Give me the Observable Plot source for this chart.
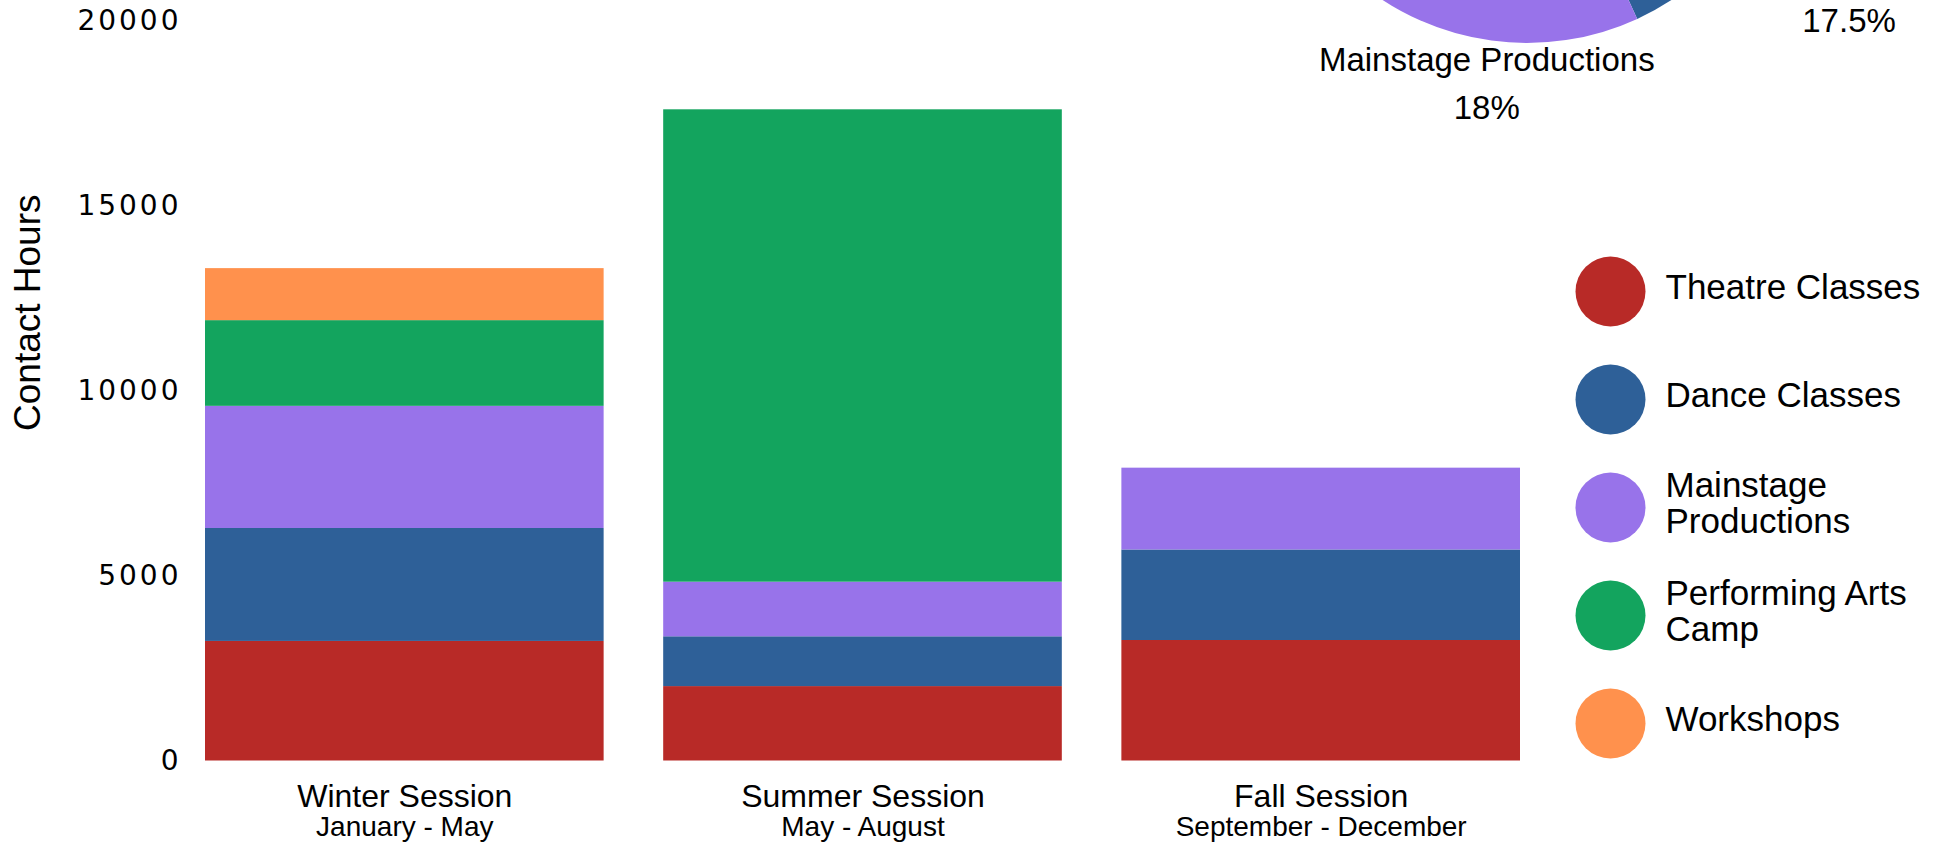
<!DOCTYPE html>
<html>
<head>
<meta charset="utf-8">
<script src="https://cdn.jsdelivr.net/npm/d3@7"></script>
<script src="https://cdn.jsdelivr.net/npm/@observablehq/plot@0.6"></script>
<style>
  html, body { margin: 0; padding: 0; background: #fff; }
  body { width: 1945px; height: 846px; overflow: hidden; position: relative; font-family: "Liberation Sans", Arial, sans-serif; }
  .piece { position: absolute; }
  #bars g[aria-label="y-axis tick label"] text { letter-spacing: 3px; }
</style>
</head>
<body>
<div id="bars" class="piece" style="left:0px; top:-150px;"></div>
<div id="pie" class="piece" style="left:1109px; top:-639px;"></div>
<div id="legend" class="piece" style="left:1560px; top:230px;"></div>
<script>
// ---------- data ----------
const sessions = ["Winter Session", "Summer Session", "Fall Session"];
const sessionMonths = ["January - May", "May - August", "September - December"];
const categories = ["Theatre Classes", "Dance Classes", "Mainstage Productions", "Performing Arts Camp", "Workshops"];
const legendLabels = ["Theatre Classes", "Dance Classes", "Mainstage\nProductions", "Performing Arts\nCamp", "Workshops"];
const colors = ["#b82a27", "#2e6098", "#9873ea", "#13a45e", "#ff914d"];

// contact hours per session (Winter, Summer, Fall)
const theatreHours   = [3230, 2010, 3255];
const danceHours     = [3050, 1345, 2445];
const mainstageHours = [3300, 1475, 2210];
const campHours      = [2315, 12760, 0];
const workshopHours  = [1405, 0, 0];

const yTicks = [0, 5000, 10000, 15000, 20000];
const yLabel = "Contact Hours";

// order of the slices around the pie (clockwise from 12 o'clock)
const pieOrder = ["Workshops", "Theatre Classes", "Dance Classes", "Mainstage Productions", "Performing Arts Camp"];

// ---------- tables built from the arrays ----------
const seriesByCategory = [theatreHours, danceHours, mainstageHours, campHours, workshopHours];
const rows = [];
categories.forEach((c, ci) => {
  sessions.forEach((s, si) => {
    const v = seriesByCategory[ci][si];
    if (v > 0) rows.push({session: s, category: c, hours: v});
  });
});

const FONT = "Liberation Sans";

// ---------- stacked bars ----------
const bars = Plot.plot({
  width: 1945,
  height: 996,
  marginTop: 22,
  marginBottom: 85.5,
  marginLeft: 205,
  marginRight: 425,
  style: {fontFamily: FONT, background: "transparent", color: "#000", overflow: "visible"},
  x: {domain: sessions, paddingInner: 0.13, paddingOuter: 0, round: false, axis: null},
  y: {domain: [0, 24000], axis: null},
  color: {domain: categories, range: colors},
  marks: [
    Plot.barY(rows, {x: "session", y: "hours", fill: "category", order: categories}),
    Plot.axisY({ticks: yTicks, tickSize: 0, tickPadding: 24, tickFormat: d => String(d),
                fontSize: 28, fontFamily: "DejaVu Sans", label: null}),
    Plot.text([yLabel], {text: d => d, frameAnchor: "left", textAnchor: "middle", rotate: -90, dx: -177, dy: -4,
                         fontSize: 37, fontFamily: FONT}),
    Plot.text(sessions, {x: d => d, text: d => d, frameAnchor: "bottom", lineAnchor: "bottom", dy: 46, fontSize: 32, fontFamily: FONT}),
    Plot.text(sessions, {x: d => d, text: (d, i) => sessionMonths[i], frameAnchor: "bottom", lineAnchor: "bottom", dy: 75, fontSize: 28, fontFamily: FONT})
  ]
});
document.getElementById("bars").appendChild(bars);

// ---------- pie of totals ----------
const totals = categories.map((c, ci) => ({category: c, value: d3.sum(seriesByCategory[ci])}));
const grand = d3.sum(totals, d => d.value);
const pieData = pieOrder.map(c => totals.find(t => t.category === c));
const arcs = d3.pie().sort(null).value(d => d.value)(pieData);
const colorScale = Plot.scale({color: {domain: categories, range: colors}});

const PW = 836, PH = 836, R = 264, LABEL_FS = 33, LABEL_LH = 1.45, GAP = -8;
const ctx = document.createElement("canvas").getContext("2d");
ctx.font = `${LABEL_FS}px "${FONT}"`;
const labels = arcs.map(a => {
  const mid = (a.startAngle + a.endAngle) / 2;
  const sx = Math.sin(mid), sy = -Math.cos(mid);
  const share = Math.round(a.data.value / grand * 200) / 2;
  const name = a.data.category;
  const pct = `${share}%`;
  const w = Math.max(ctx.measureText(name).width, ctx.measureText(pct).width);
  const h = LABEL_FS * (1 + LABEL_LH) - LABEL_FS * 0.3;
  // push each label out of the circle by the extent of its text block in that direction
  const dist = R + GAP + Math.abs(sx) * w * 0.65 + Math.abs(sy) * h * 0.25;
  return {lx: PW / 2 + sx * dist, ly: PH / 2 + sy * dist, text: `${name}\n${pct}`};
});

const pie = Plot.plot({
  width: PW,
  height: PH,
  margin: 0,
  style: {fontFamily: FONT, background: "transparent", color: "#000", overflow: "visible"},
  x: {type: "identity", axis: null},
  y: {type: "identity", axis: null},
  marks: [
    (index, scales, values, dimensions) => {
      const g = d3.create("svg:g")
        .attr("transform", `translate(${dimensions.width / 2},${dimensions.height / 2})`);
      const arcGen = d3.arc().innerRadius(0).outerRadius(R);
      g.selectAll("path").data(arcs).join("path")
        .attr("d", arcGen)
        .attr("fill", d => colorScale.apply(d.data.category));
      return g.node();
    },
    Plot.text(labels, {x: "lx", y: "ly", text: "text", fontSize: LABEL_FS, lineHeight: LABEL_LH, textAnchor: "middle", fontFamily: FONT})
  ]
});
document.getElementById("pie").appendChild(pie);

// ---------- legend ----------
const legend = Plot.plot({
  width: 385,
  height: 530,
  marginTop: 60.3,
  marginBottom: 36.9,
  marginLeft: 0,
  marginRight: 0,
  style: {fontFamily: FONT, background: "transparent", color: "#000", overflow: "visible"},
  y: {type: "point", domain: categories, padding: 0, axis: null},
  color: {domain: categories, range: colors},
  marks: [
    Plot.dot(categories, {y: d => d, fill: d => d, r: 35, frameAnchor: "left", dx: 50}),
    Plot.text(categories, {y: d => d, text: (d, i) => legendLabels[i], frameAnchor: "left", dx: 105, dy: -4,
                           textAnchor: "start", fontSize: 35, lineHeight: 1.03, fontFamily: FONT})
  ]
});
document.getElementById("legend").appendChild(legend);
</script>
</body>
</html>
